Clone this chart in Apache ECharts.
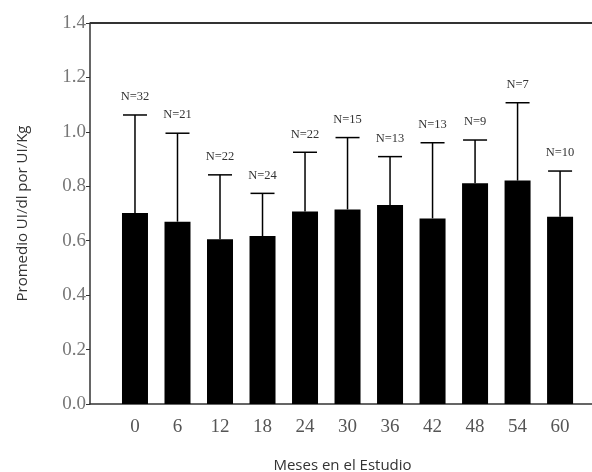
<!DOCTYPE html>
<html>
<head>
<meta charset="utf-8">
<script src="https://cdn.jsdelivr.net/npm/echarts@6/dist/echarts.min.js"></script>
<style>html,body{margin:0;padding:0;background:#fff;}#c{width:592px;height:472px;}</style>
</head>
<body>
<div id="c"></div>
<script>
const months = [0, 6, 12, 18, 24, 30, 36, 42, 48, 54, 60];
const means = [0.702, 0.670, 0.605, 0.617, 0.707, 0.715, 0.731, 0.682, 0.811, 0.821, 0.688];
const upper = [1.062, 0.995, 0.842, 0.774, 0.925, 0.979, 0.909, 0.960, 0.970, 1.107, 0.856];
const nLabels = ['N=32', 'N=21', 'N=22', 'N=24', 'N=22', 'N=15', 'N=13', 'N=13', 'N=9', 'N=7', 'N=10'];
const xMin = -6.35, xMax = 64.93, yMax = 1.4;

const chart = echarts.init(document.getElementById('c'));
const barData = months.map((m, i) => [m, means[i]]);
const errData = months.map((m, i) => [m, means[i], upper[i], nLabels[i]]);

chart.setOption({
  animation: false,
  backgroundColor: '#fff',
  grid: { left: 90, top: 23, right: -3, bottom: 68, outerBoundsMode: 'none', containLabel: false },
  xAxis: {
    type: 'value', min: xMin, max: xMax,
    axisLine: { show: true, onZero: false, lineStyle: { color: '#333', width: 1.5 } },
    axisTick: { show: false },
    splitLine: { show: false },
    axisLabel: { customValues: months, margin: 14, fontFamily: 'Liberation Serif, serif', fontSize: 19, color: '#555' },
    name: 'Meses en el Estudio', nameLocation: 'middle', nameGap: 54,
    nameTextStyle: { fontFamily: 'Open Sans, sans-serif', fontSize: 15, color: '#333' }
  },
  yAxis: {
    type: 'value', min: 0, max: yMax, interval: 0.2,
    axisLine: { show: true, onZero: false, lineStyle: { color: '#333', width: 1.5 } },
    axisTick: { show: true, length: 4, lineStyle: { color: '#333' } },
    splitLine: { show: false },
    axisLabel: { margin: 4, fontFamily: 'Liberation Serif, serif', fontSize: 19, color: '#777',
      formatter: v => v.toFixed(1) },
    name: 'Promedio UI/dl por UI/Kg', nameLocation: 'middle', nameGap: 60,
    nameTextStyle: { fontFamily: 'Open Sans, sans-serif', fontSize: 15, color: '#333' }
  },
  series: [{
    type: 'bar', data: barData, barWidth: 26,
    itemStyle: { color: '#000' }
  }, {
    type: 'custom',
    data: errData,
    clip: false,
    renderItem: function (params, api) {
      const x = api.value(0);
      const top = api.coord([x, api.value(2)]);
      const bot = api.coord([x, api.value(1)]);
      const hw = 12;
      const children = [
        { type: 'line', shape: { x1: top[0], y1: bot[1], x2: top[0], y2: top[1] }, style: { stroke: '#000', lineWidth: 1.5 } },
        { type: 'line', shape: { x1: top[0] - hw, y1: top[1], x2: top[0] + hw, y2: top[1] }, style: { stroke: '#000', lineWidth: 1.5 } },
        { type: 'text', x: top[0], y: top[1] - 18, style: { text: api.value(3), fill: '#333', font: '12.5px "Liberation Serif", serif', align: 'center', verticalAlign: 'middle' } }
      ];
      if (params.dataIndex === 0) {
        const a = api.coord([xMin, yMax]);
        const b = api.coord([xMax, yMax]);
        children.push({ type: 'rect', shape: { x: a[0], y: a[1] - 1, width: b[0] - a[0], height: 2 }, style: { fill: '#333' } });
      }
      return { type: 'group', children: children };
    },
    z: 5
  }]
});
</script>
</body>
</html>
